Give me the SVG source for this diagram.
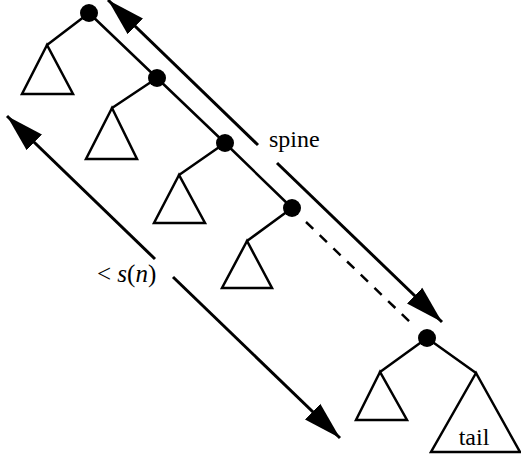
<svg xmlns="http://www.w3.org/2000/svg" width="521" height="459" viewBox="0 0 521 459">
<defs>
<marker id="ah" markerUnits="userSpaceOnUse" markerWidth="40" markerHeight="24" refX="38" refY="12" orient="auto-start-reverse">
<path d="M0,1 L38,12 L0,23 z" fill="#000"/>
</marker>
<style>
.edge{stroke:#000;stroke-width:2.5;fill:none;stroke-linecap:round}
.tri{stroke:#000;stroke-width:2.5;fill:#fff;stroke-linejoin:miter}
.node{fill:#000}
.arrow{stroke:#000;stroke-width:3;fill:none}
.dash{stroke:#000;stroke-width:2.5;fill:none;stroke-dasharray:10,9}
text{font-family:"Liberation Serif","Times New Roman","DejaVu Serif",serif;fill:#000}
</style>
</defs>
<g id="connectors">
<line class="edge" x1="89" y1="13" x2="47" y2="45"/>
<line class="edge" x1="89" y1="13" x2="157" y2="78"/>
<line class="edge" x1="157" y1="78" x2="112" y2="108"/>
<line class="edge" x1="157" y1="78" x2="225" y2="143"/>
<line class="edge" x1="225" y1="143" x2="179" y2="175"/>
<line class="edge" x1="225" y1="143" x2="292" y2="208"/>
<line class="edge" x1="292" y1="208" x2="247" y2="241"/>
<line class="dash" x1="306" y1="222" x2="412" y2="324"/>
<line class="edge" x1="427" y1="338" x2="380" y2="372"/>
<line class="edge" x1="427" y1="338" x2="476" y2="373"/>
<line class="arrow" x1="108" y1="0" x2="258" y2="145" marker-start="url(#ah)"/>
<line class="arrow" x1="277" y1="163" x2="442" y2="322" marker-end="url(#ah)"/>
<line class="arrow" x1="7" y1="116" x2="155" y2="259" marker-start="url(#ah)"/>
<line class="arrow" x1="173" y1="277" x2="340" y2="438" marker-end="url(#ah)"/>
</g>
<g id="t1"><polygon class="tri" points="47,45 22,94 73,94"/></g>
<g id="t2"><polygon class="tri" points="112,108 86,159 137,159"/></g>
<g id="t3"><polygon class="tri" points="179,175 154,223 205,223"/></g>
<g id="t4"><polygon class="tri" points="247,241 222,288 272,288"/></g>
<g id="t5"><polygon class="tri" points="380,372 356,420 407,420"/></g>
<g id="tail"><polygon class="tri" points="476,373 431,452 520,452"/><text x="474" y="445" text-anchor="middle" font-size="24">tail</text></g>
<g id="n1"><circle class="node" cx="89" cy="13" r="9"/></g>
<g id="n2"><circle class="node" cx="157" cy="78" r="9"/></g>
<g id="n3"><circle class="node" cx="225" cy="143" r="9"/></g>
<g id="n4"><circle class="node" cx="292" cy="208" r="9"/></g>
<g id="n5"><circle class="node" cx="427" cy="338" r="9"/></g>
<g id="labels">
<text x="269" y="147" font-size="24">spine</text>
<text x="97" y="282" font-size="25">&lt; <tspan font-style="italic">s</tspan>(<tspan font-style="italic">n</tspan>)</text>
</g>
</svg>
